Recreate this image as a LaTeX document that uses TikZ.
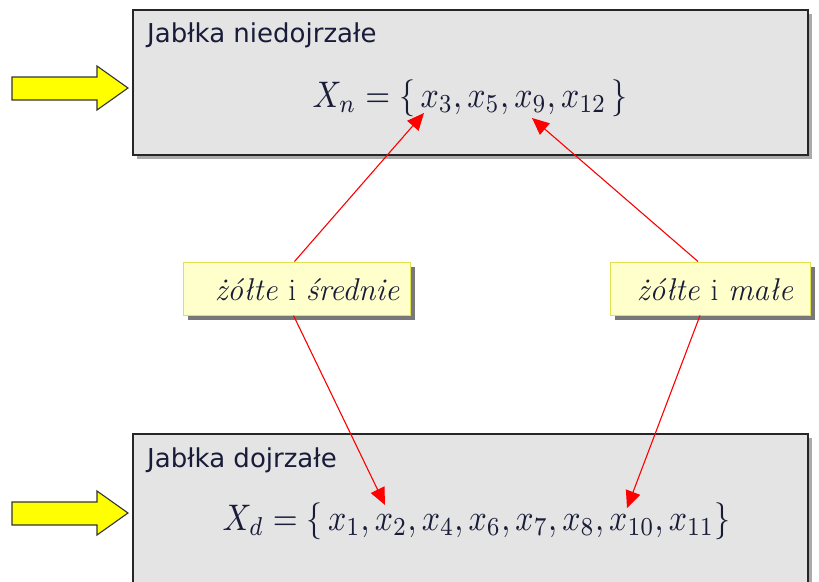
\documentclass[tikz,border=0pt]{standalone}
\usepackage{fontspec}
\newfontfamily\titlefont{DejaVu Sans}
\usetikzlibrary{arrows.meta,shadows}

\definecolor{panelgray}{RGB}{228,228,228}
\definecolor{panelshadow}{RGB}{170,170,170}
\definecolor{inkblue}{RGB}{24,28,56}
\definecolor{notefill}{RGB}{255,255,204}
\definecolor{noteedge}{RGB}{226,226,80}
\definecolor{noteshadow}{RGB}{120,120,120}
\definecolor{pointeryellow}{RGB}{255,255,0}

\tikzset{
  panel/.style={draw=black!85, line width=1.4pt, fill=panelgray, inner sep=0pt,
    drop shadow={shadow xshift=4pt, shadow yshift=-4pt, fill=panelshadow, opacity=1}},
  paneltitle/.style={anchor=north west, inner sep=0pt, text=inkblue,
    font=\titlefont\fontsize{26}{29}\selectfont},
  setexpr/.style={anchor=base west, inner sep=0pt, text=inkblue, xscale=3.2, yscale=3.7},
  note/.style={draw=noteedge, line width=1pt, fill=notefill, inner sep=0pt,
    minimum height=53pt,
    drop shadow={shadow xshift=5pt, shadow yshift=-5pt, fill=noteshadow, opacity=1}},
  notetext/.style={inner sep=0pt, text=inkblue, font=\fontsize{31.5}{34}\selectfont},
  pointer/.style={draw=black!80, line width=1.1pt, fill=pointeryellow, line join=miter},
  member/.style={draw=red, line width=1.1pt, -{Triangle[length=17pt,width=15pt]}},
}

\begin{document}
\begin{tikzpicture}[x=1pt, y=-1pt]
  \useasboundingbox (0,0) rectangle (819,581);

  % the two sets
  \node[panel, minimum width=675pt, minimum height=145pt] (unripe) at (470.5,82.5) {};
  \node[panel, minimum width=675pt, minimum height=170pt] (ripe) at (470.5,519) {};

  \node[paneltitle] (unripetitle) at (147,23) {Jabłka niedojrzałe};
  \node[paneltitle] (ripetitle) at (147,448) {Jabłka dojrzałe};

  \node[setexpr] (unripeset) at (312,107) {$X_n = \{\,x_3, x_5, x_9, x_{12}\,\}$};
  \node[setexpr] (ripeset) at (222,530) {$X_d = \{\,x_1, x_2, x_4, x_6, x_7, x_8, x_{10}, x_{11}\}$};

  % block arrows pointing at the panels
  \draw[pointer] (12,77) -- (97,77) -- (97,66) -- (128,88) -- (97,110) -- (97,100) -- (12,100) -- cycle;
  \draw[pointer] (12,502) -- (97,502) -- (97,491) -- (128,513) -- (97,535) -- (97,525) -- (12,525) -- cycle;

  % feature labels: boxes, then their texts
  \node[note, minimum width=227pt] (yellowmid) at (296.5,288.5) {};
  \node[note, minimum width=200pt] (yellowsmall) at (710,288.5) {};
  \node[notetext, anchor=base] (yellowmidtext) at (307,300)
    {\itshape żółte \upshape i \itshape średnie};
  \node[notetext, anchor=base] (yellowsmalltext) at (715,300)
    {\itshape żółte \upshape i \itshape małe};

  % arrow targets inside the sets
  \coordinate (t3) at (424,113);
  \coordinate (t9) at (532,118);
  \coordinate (t2) at (385,505);
  \coordinate (t10) at (627,508);

  \draw[member] ([xshift=-2pt]yellowmid.north) -- (t3);
  \draw[member] ([xshift=-12pt]yellowsmall.north) -- (t9);
  \draw[member] ([xshift=-3pt]yellowmid.south) -- (t2);
  \draw[member] ([xshift=-10pt]yellowsmall.south) -- (t10);
\end{tikzpicture}
\end{document}
